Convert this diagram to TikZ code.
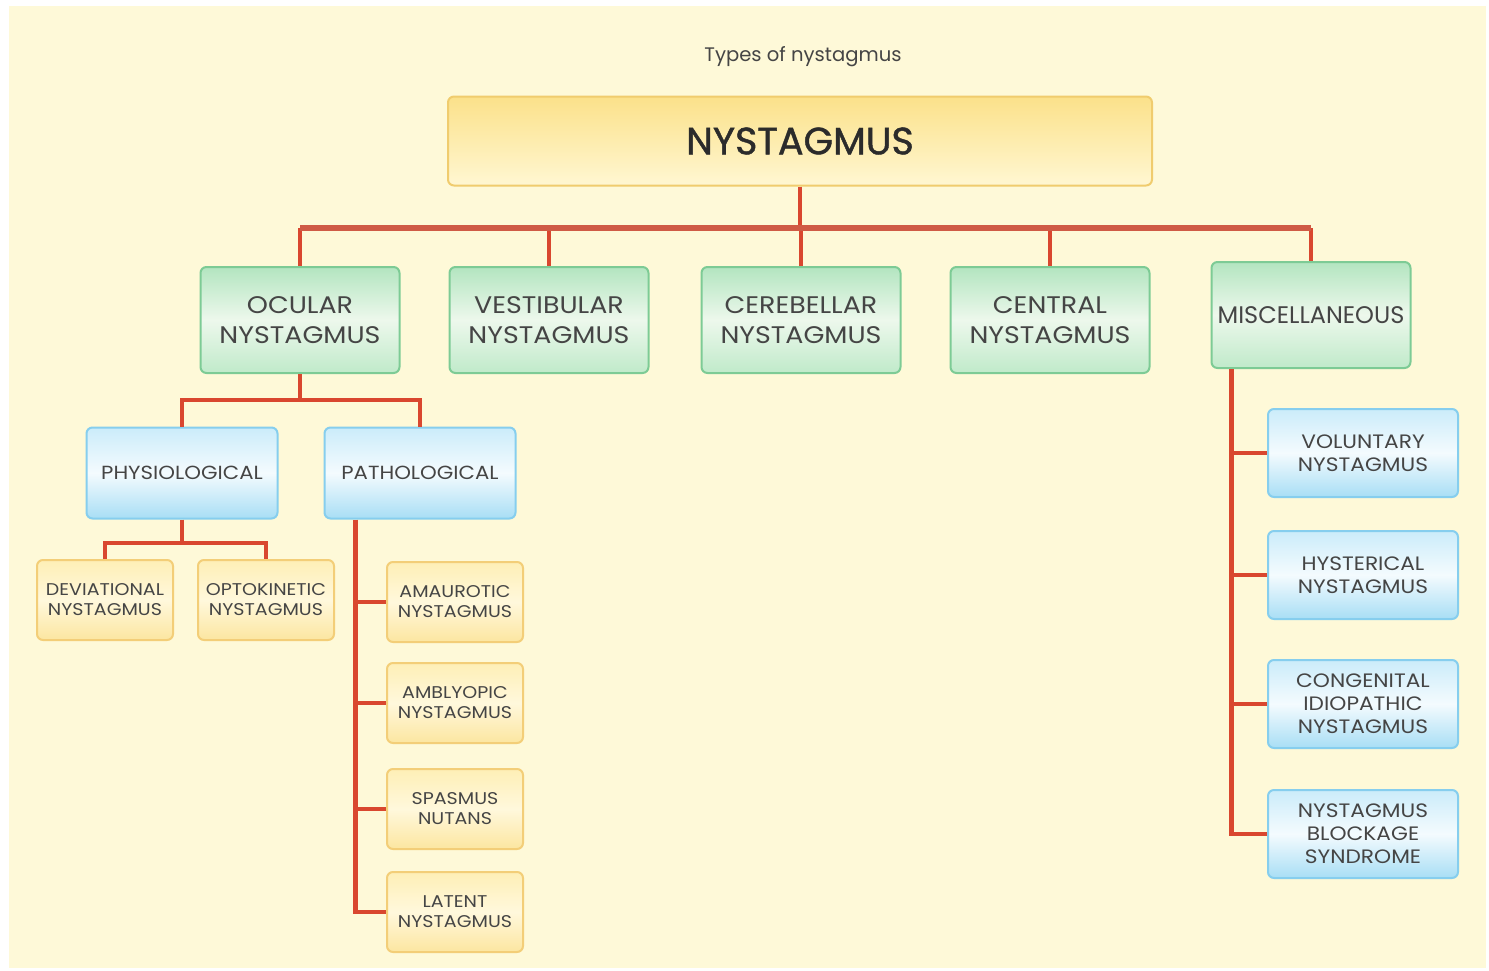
\documentclass[tikz,border=0pt]{standalone}
\usepackage{fontspec}
\setmainfont{Poppins}[FakeStretch=1.12]
\newfontfamily\plainfont{Poppins}
\newfontfamily\rootfont{Poppins}[FakeBold=1.2]
\usetikzlibrary{positioning}

\definecolor{bgcream}{HTML}{FEF9D8}
\definecolor{linkred}{HTML}{D9472F}
\definecolor{busred}{HTML}{CF5B45}
\definecolor{inkgray}{HTML}{454545}
\definecolor{rootink}{HTML}{2B2B2B}
\definecolor{rootedge}{HTML}{F0CC6E}
\definecolor{roottop}{HTML}{FBE18A}
\definecolor{rootbot}{HTML}{FFF7D2}
\definecolor{greenedge}{HTML}{7DCB95}
\definecolor{greentop}{HTML}{B3E5C0}
\definecolor{greenmid}{HTML}{EDF8EC}
\definecolor{greenbot}{HTML}{C0EACA}
\definecolor{blueedge}{HTML}{86CEEE}
\definecolor{bluetop}{HTML}{CBECFA}
\definecolor{bluemid}{HTML}{F4FBFE}
\definecolor{bluebot}{HTML}{A8DEF5}
\definecolor{leafedge}{HTML}{F3CE78}
\definecolor{leaftop}{HTML}{FEEFB6}
\definecolor{leafmid}{HTML}{FFF8DC}
\definecolor{leafbot}{HTML}{FCE6A0}

\tikzset{
  link/.style={draw=linkred, line width=2.2pt},
  busline/.style={draw=busred, line width=3.2pt},
  basebox/.style={rounded corners=3pt, inner sep=1pt, align=center, text=inkgray, line width=1pt},
  rootbox/.style={basebox, draw=rootedge, top color=roottop, bottom color=rootbot, text=rootink,
    minimum width=352pt, minimum height=44.5pt, font=\rootfont\fontsize{19}{22}\selectfont},
  typebox/.style={basebox, draw=greenedge, top color=greentop, bottom color=greenbot, middle color=greenmid,
    minimum width=99.5pt, minimum height=53pt, font=\fontsize{12}{15}\selectfont},
  subbox/.style={basebox, draw=blueedge, top color=bluetop, bottom color=bluebot, middle color=bluemid,
    minimum width=95.5pt, minimum height=45.5pt, font=\fontsize{9.5}{11}\selectfont},
  leafbox/.style={basebox, draw=leafedge, top color=leaftop, bottom color=leafbot, middle color=leafmid,
    minimum width=68pt, minimum height=40pt, font=\fontsize{8.5}{10}\selectfont},
  miscbox/.style={subbox, minimum width=95pt, minimum height=44pt, font=\fontsize{9.7}{11.5}\selectfont}
}

\begin{document}
\begin{tikzpicture}[x=0.5pt, y=-0.5pt]
    \fill[white] (0,0) rectangle (1489,970);
    \fill[bgcream] (9,6) rectangle (1486,968);

    \node[font=\plainfont\fontsize{9.8}{11}\selectfont, text=inkgray] (caption) at (803,57) {Types of nystagmus};
    \node[rootbox] (root) at (800,141) {NYSTAGMUS};

    % main types
    \node[typebox] (ocular) at (300,320) {OCULAR\\NYSTAGMUS};
    \node[typebox] (vestib) at (549,320) {VESTIBULAR\\NYSTAGMUS};
    \node[typebox] (cereb) at (801,320) {CEREBELLAR\\NYSTAGMUS};
    \node[typebox] (central) at (1050,320) {CENTRAL\\NYSTAGMUS};
    \node[typebox, font=\plainfont\fontsize{12}{15}\selectfont] (misc) at (1311,315) {MISCELLANEOUS};

    % ocular branch
    \node[subbox] (physio) at (182,473) {PHYSIOLOGICAL};
    \node[subbox] (patho) at (420,473) {PATHOLOGICAL};
    \node[leafbox] (devi) at (105,600) {DEVIATIONAL\\NYSTAGMUS};
    \node[leafbox] (opto) at (266,600) {OPTOKINETIC\\NYSTAGMUS};
    \node[leafbox] (amaur) at (455,602) {AMAUROTIC\\NYSTAGMUS};
    \node[leafbox] (amblyo) at (455,703) {AMBLYOPIC\\NYSTAGMUS};
    \node[leafbox] (spasmus) at (455,809) {SPASMUS\\NUTANS};
    \node[leafbox] (latent) at (455,912) {LATENT\\NYSTAGMUS};

    % miscellaneous branch
    \node[miscbox] (volunt) at (1363,453) {VOLUNTARY\\NYSTAGMUS};
    \node[miscbox] (hyster) at (1363,575) {HYSTERICAL\\NYSTAGMUS};
    \node[miscbox] (congen) at (1363,704) {CONGENITAL\\IDIOPATHIC\\NYSTAGMUS};
    \node[miscbox] (blockg) at (1363,834) {NYSTAGMUS\\BLOCKAGE\\SYNDROME};

    % connectors
    \coordinate (bus) at (0,228);
    \draw[link] (root.south) -- (root.south |- bus);
    \foreach \n in {ocular,vestib,cereb,central,misc}
        \draw[link] (\n.north |- bus) -- (\n.north);
    \draw[busline] (ocular.north |- bus) -- (misc.north |- bus);

    \coordinate (obus) at (0,400);
    \draw[link] (ocular.south) -- (ocular.south |- obus);
    \draw[link] (physio.north) |- (patho.north |- obus) -- (patho.north);

    \coordinate (pbus) at (0,543);
    \draw[link] (physio.south) -- (physio.south |- pbus);
    \draw[link] (devi.north) |- (opto.north |- pbus) -- (opto.north);

    \path (patho.south west) ++(32,0) coordinate (ptrunk);
    \draw[link] (ptrunk) |- (latent.west);
    \foreach \n in {amaur,amblyo,spasmus}
        \draw[link] (ptrunk |- \n.west) -- (\n.west);

    \path (misc.south west) ++(21,0) coordinate (mtrunk);
    \draw[link] (mtrunk) |- (blockg.west);
    \foreach \n in {volunt,hyster,congen}
        \draw[link] (mtrunk |- \n.west) -- (\n.west);
\end{tikzpicture}
\end{document}
